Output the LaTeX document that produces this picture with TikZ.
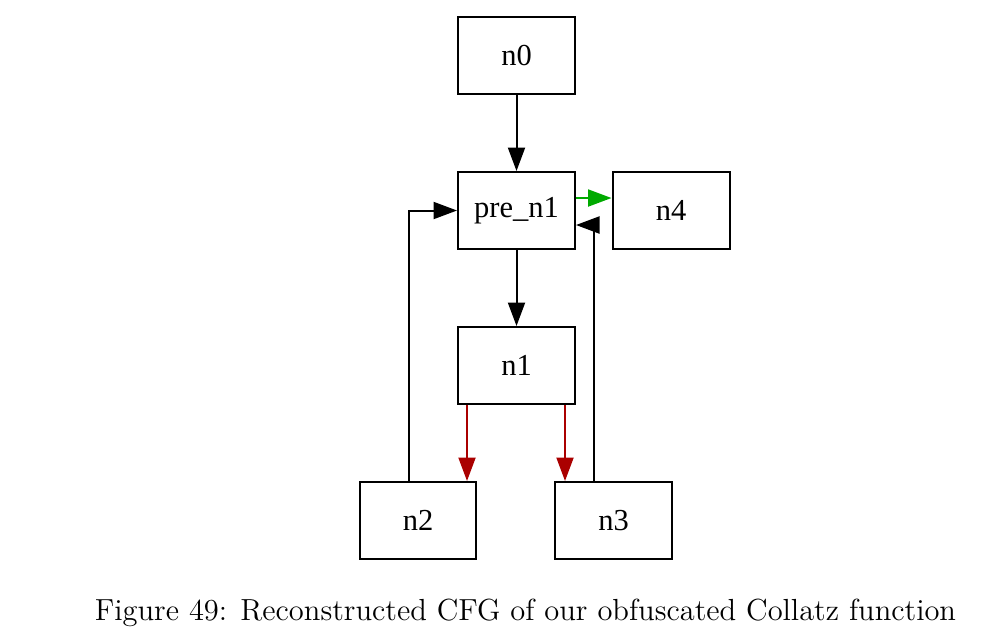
\documentclass[tikz,border=0pt]{standalone}
\usepackage{fontspec}
\newfontfamily\nodefont{Liberation Serif}
\usetikzlibrary{arrows.meta}
\definecolor{edgegreen}{RGB}{0,170,0}
\definecolor{edgered}{RGB}{170,0,0}
\begin{document}
\begin{tikzpicture}[x=0.4pt,y=-0.4pt,
  blk/.style={draw,line width=0.8pt,minimum width=46.8pt,minimum height=30.8pt,inner sep=0pt,font=\nodefont\fontsize{12.2}{14}\selectfont},
  edge/.style={line width=0.8pt,-{Triangle[length=9.4pt,width=6.8pt]}}]
\useasboundingbox (0,0) rectangle (988,642);
\node[blk] (n0) at (516.5,55.5) {n0};
\node[blk] (pre) at (516.5,210.5) {pre\_n1};
\node[blk] (n4) at (671,210.5) {n4};
\node[blk] (n1) at (516.5,365.5) {n1};
\node[blk,minimum width=46.4pt] (n2) at (418,520.5) {n2};
\node[blk] (n3) at (613.5,520.5) {n3};
\coordinate (c2) at (467,0);
\coordinate (c3) at (565,0);
\coordinate (b2) at (409,0);
\coordinate (b3) at (594,0);
\coordinate (g) at (0,198);
\coordinate (r3) at (0,225);
\draw[edge] (n0) -- (pre);
\draw[edge] (pre) -- (n1);
\draw[edge,edgegreen] (pre.east |- g) -- (n4.west |- g);
\draw[edge,edgered] (n1.south -| c2) -- (n2.north -| c2);
\draw[edge,edgered] (n1.south -| c3) -- (n3.north -| c3);
\draw[edge] (n2.north -| b2) |- (pre.west);
\draw[edge] (n3.north -| b3) |- (pre.east |- r3);
\node[anchor=base,inner sep=0pt,font=\fontsize{12.2}{14}\selectfont] (cap) at (525.5,620) {Figure 49: Reconstructed CFG of our obfuscated Collatz function};
\end{tikzpicture}
\end{document}
